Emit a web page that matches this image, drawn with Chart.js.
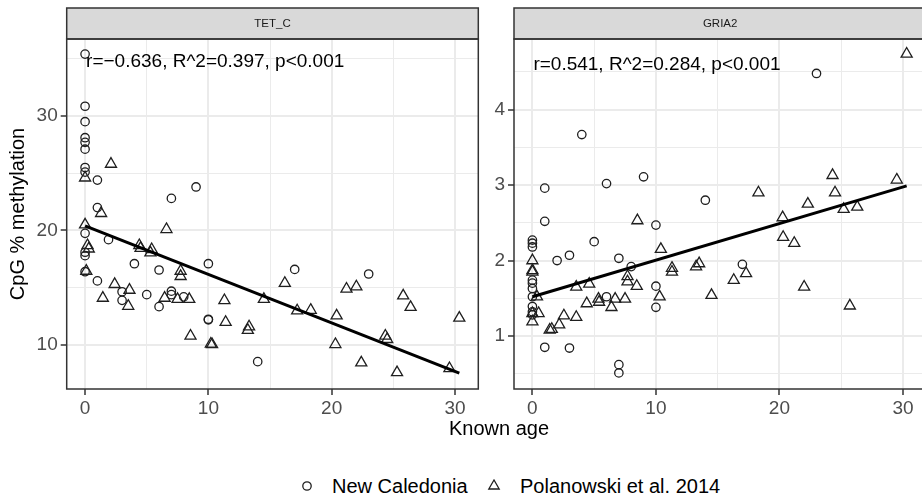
<!DOCTYPE html>
<html>
<head>
<meta charset="utf-8">
<script src="https://cdn.jsdelivr.net/npm/chart.js@4.4.0/dist/chart.umd.min.js"></script>
<style>
html, body { margin: 0; padding: 0; width: 922px; height: 499px; overflow: hidden; background: #fff; }
body { position: relative; font-family: "Liberation Sans", Arial, sans-serif; }
.box { position: absolute; top: 0; height: 430px; }
#leftBox { left: 0; width: 486px; }
#rightBox { left: 488px; width: 446px; }
#xTitle { position: absolute; left: 399px; width: 200px; top: 416px; line-height: 24px; text-align: center; font-size: 20px; color: #000; }
.lg { position: absolute; top: 474px; line-height: 24px; font-size: 20px; color: #000; white-space: nowrap; }
.mk { position: absolute; top: 479px; }
</style>
</head>
<body>
<div class="box" id="leftBox"><canvas id="leftChart"></canvas></div>
<div class="box" id="rightBox"><canvas id="rightChart"></canvas></div>
<div id="xTitle"></div>
<svg class="mk" style="left:300px" width="14" height="14"><circle cx="7" cy="7" r="4.2" fill="none" stroke="#1f1f1f" stroke-width="1.3"/></svg>
<div class="lg" id="lg0" style="left:332px"></div>
<svg class="mk" style="left:487px" width="14" height="14"><polygon points="7,1 1.8,10 12.2,10" fill="none" stroke="#1f1f1f" stroke-width="1.3"/></svg>
<div class="lg" id="lg1" style="left:520px"></div>
<script>
const panelNames = ["TET_C", "GRIA2"];
const seriesNames = ["New Caledonia", "Polanowski et al. 2014"];
const xTitle = "Known age";
const yTitle = "CpG % methylation";
const annotText = ["r=\u22120.636, R^2=0.397, p<0.001", "r=0.541, R^2=0.284, p<0.001"];

const xTicks = [0, 5, 10, 15, 20, 25, 30];
const xTickLabels = ["0", "", "10", "", "20", "", "30"];
const tetTicks = [10, 15, 20, 25, 30, 35];
const tetTickLabels = ["10", "", "20", "", "30", ""];
const griaTicks = [0.5, 1, 1.5, 2, 2.5, 3, 3.5, 4, 4.5];
const griaTickLabels = ["", "1", "", "2", "", "3", "", "4", ""];

// TET_C, New Caledonia
const tetNcX = [0, 0, 0, 0, 0, 0, 0, 0, 1, 9, 7, 1, 0, 1.9, 0, 0, 4, 10, 6, 17, 23, 0, 1, 3, 3, 5, 6, 7, 7, 8, 10, 10, 14];
const tetNcY = [35.4, 30.85, 29.5, 28.1, 27.7, 27.1, 25.5, 25.1, 24.4, 23.8, 22.8, 22.0, 19.75, 19.2, 18.1, 17.8, 17.1, 17.1, 16.55, 16.6, 16.2, 16.4, 15.6, 14.65, 13.9, 14.4, 13.35, 14.7, 14.4, 14.2, 12.2, 12.25, 8.55];
// TET_C, Polanowski et al. 2014
const tetPolX = [0, 2.1, 1.3, 0, 6.6, 0.2, 0.3, 4.4, 4.5, 5.4, 5.3, 7.75, 7.75, 0.1, 2.4, 3.6, 1.44, 3.5, 6.45, 7.5, 8.45, 11.3, 14.5, 16.2, 11.4, 13.3, 13.2, 8.55, 10.2, 10.3, 17.2, 18.3, 20.4, 21.2, 22.0, 25.8, 26.4, 24.35, 24.5, 20.3, 22.4, 25.3, 29.55, 30.35];
const tetPolY = [24.6, 25.8, 21.5, 20.5, 20.1, 18.7, 18.4, 18.7, 18.45, 18.35, 18.06, 16.46, 16.0, 16.46, 15.3, 14.8, 14.1, 13.4, 14.1, 14.0, 14.0, 13.9, 14.0, 15.4, 12.0, 11.6, 11.3, 10.8, 10.1, 10.05, 13.0, 13.05, 12.56, 14.9, 15.1, 14.3, 13.3, 10.8, 10.5, 10.06, 8.45, 7.6, 7.96, 12.36];
const tetFitX = [0, 30.35];
const tetFitY = [20.4, 7.55];

// GRIA2, New Caledonia
const griaNcX = [4, 1, 6, 9, 14, 23, 1, 10, 0, 0, 0, 5, 2, 3, 7, 8, 17, 0, 0, 0, 10, 6, 10, 0, 0, 0, 1, 3, 7, 7, 0];
const griaNcY = [3.67, 2.96, 3.02, 3.11, 2.80, 4.48, 2.52, 2.47, 2.27, 2.23, 2.18, 2.25, 2.0, 2.07, 2.03, 1.92, 1.95, 1.74, 1.70, 1.63, 1.66, 1.52, 1.38, 1.39, 1.32, 1.28, 0.85, 0.84, 0.62, 0.51, 1.52];
// GRIA2, Polanowski et al. 2014
const griaPolX = [30.3, 18.3, 24.3, 24.5, 29.5, 22.3, 25.2, 26.3, 20.26, 20.3, 21.2, 13.5, 13.25, 17.3, 16.3, 22.0, 14.5, 25.7, 8.5, 0, 10.4, 0, 0, 7.7, 7.7, 8.45, 11.3, 11.3, 3.55, 4.6, 0.37, 5.35, 5.4, 6.7, 7.5, 4.4, 6.4, 10.3, 0, 0.5, 0, 2.55, 2.17, 3.55, 1.4, 1.57];
const griaPolY = [4.74, 2.90, 3.13, 2.90, 3.07, 2.75, 2.68, 2.71, 2.57, 2.31, 2.23, 1.96, 1.92, 1.83, 1.74, 1.65, 1.54, 1.40, 2.53, 2.0, 2.15, 1.87, 1.85, 1.79, 1.72, 1.66, 1.90, 1.85, 1.65, 1.69, 1.52, 1.49, 1.45, 1.49, 1.49, 1.43, 1.38, 1.52, 1.30, 1.30, 1.19, 1.27, 1.15, 1.25, 1.08, 1.09];
const griaFitX = [0, 30.3];
const griaFitY = [1.52, 2.99];

const FONT = "'Liberation Sans', Arial, sans-serif";
const pointColor = "#1f1f1f";

document.getElementById("xTitle").textContent = xTitle;
document.getElementById("lg0").textContent = seriesNames[0];
document.getElementById("lg1").textContent = seriesNames[1];

function toPoints(xs, ys) {
    return xs.map((x, i) => ({ x: x, y: ys[i] }));
}

function decorPlugin(name, note, noteY) {
    return {
        id: "decor",
        afterDatasetsDraw(chart) {
            const ctx = chart.ctx;
            ctx.save();
            ctx.fillStyle = "#000";
            ctx.font = "19px " + FONT;
            ctx.textAlign = "left";
            ctx.textBaseline = "middle";
            ctx.fillText(note, chart.scales.x.getPixelForValue(0) + 1, chart.scales.y.getPixelForValue(noteY));
            ctx.restore();
        },
        afterDraw(chart) {
            const a = chart.chartArea;
            const ctx = chart.ctx;
            ctx.save();
            // strip
            ctx.fillStyle = "#D9D9D9";
            ctx.fillRect(a.left, a.top - 31, a.right - a.left, 31);
            ctx.strokeStyle = "#333333";
            ctx.lineWidth = 1.5;
            ctx.strokeRect(a.left, a.top - 31, a.right - a.left, 31);
            ctx.fillStyle = "#1A1A1A";
            ctx.font = "11.5px " + FONT;
            ctx.textAlign = "center";
            ctx.textBaseline = "middle";
            ctx.fillText(name, (a.left + a.right) / 2, a.top - 15.5);
            // panel border
            ctx.strokeRect(a.left, a.top, a.right - a.left, a.bottom - a.top);
            ctx.restore();
        }
    };
}

function makePanel(id, p) {
    const tickFont = { family: FONT, size: 19 };
    return new Chart(document.getElementById(id), {
        type: "scatter",
        data: {
            datasets: [{
                type: "line",
                label: "fit",
                data: p.fit,
                borderColor: "#000",
                borderWidth: 3,
                pointRadius: 0,
                fill: false
            }, {
                label: seriesNames[0],
                data: p.nc,
                pointStyle: "circle",
                pointRadius: 4.2,
                borderWidth: 1.3,
                borderColor: pointColor,
                backgroundColor: "rgba(0,0,0,0)"
            }, {
                label: seriesNames[1],
                data: p.pol,
                pointStyle: "triangle",
                pointRadius: 6.4,
                borderWidth: 1.3,
                borderColor: pointColor,
                backgroundColor: "rgba(0,0,0,0)"
            }]
        },
        options: {
            responsive: true,
            maintainAspectRatio: false,
            animation: false,
            events: [],
            layout: { padding: { top: 39, right: p.padRight, left: 0, bottom: 0 } },
            plugins: { legend: { display: false }, tooltip: { enabled: false } },
            scales: {
                x: {
                    type: "linear",
                    min: -1.49,
                    max: 31.89,
                    afterBuildTicks: s => { s.ticks = xTicks.map(v => ({ value: v })); },
                    afterFit: s => { s.height = 41; },
                    border: { display: false },
                    grid: {
                        color: "#EBEBEB",
                        lineWidth: c => xTickLabels[c.index] ? 2 : 1,
                        tickLength: 6,
                        tickWidth: 1.5,
                        tickColor: c => xTickLabels[c.index] ? "#333333" : "rgba(0,0,0,0)"
                    },
                    ticks: {
                        autoSkip: false,
                        maxRotation: 0,
                        padding: 2,
                        color: "#4D4D4D",
                        font: tickFont,
                        callback: (v, i) => xTickLabels[i]
                    }
                },
                y: {
                    type: "linear",
                    min: p.yMin,
                    max: p.yMax,
                    afterBuildTicks: s => { s.ticks = p.yTicks.map(v => ({ value: v })); },
                    afterFit: s => { s.width = p.axisWidth; },
                    border: { display: false },
                    title: {
                        display: p.showTitle,
                        text: yTitle,
                        color: "#000",
                        font: { family: FONT, size: 20 },
                        padding: { top: 6, bottom: 0 }
                    },
                    grid: {
                        color: "#EBEBEB",
                        lineWidth: c => p.yLabels[c.index] ? 2 : 1,
                        tickLength: 6,
                        tickWidth: 1.5,
                        tickColor: c => p.yLabels[c.index] ? "#333333" : "rgba(0,0,0,0)"
                    },
                    ticks: {
                        autoSkip: false,
                        padding: 3,
                        color: "#4D4D4D",
                        font: tickFont,
                        callback: (v, i) => p.yLabels[i]
                    }
                }
            }
        },
        plugins: [decorPlugin(p.name, p.note, p.noteY)]
    });
}

makePanel("leftChart", {
    name: panelNames[0],
    note: annotText[0],
    noteY: 34.7,
    fit: toPoints(tetFitX, tetFitY),
    nc: toPoints(tetNcX, tetNcY),
    pol: toPoints(tetPolX, tetPolY),
    yMin: 6.16,
    yMax: 36.72,
    yTicks: tetTicks,
    yLabels: tetTickLabels,
    axisWidth: 66.7,
    padRight: 1.7,
    showTitle: true
});

makePanel("rightChart", {
    name: panelNames[1],
    note: annotText[1],
    noteY: 4.6,
    fit: toPoints(griaFitX, griaFitY),
    nc: toPoints(griaNcX, griaNcY),
    pol: toPoints(griaPolX, griaPolY),
    yMin: 0.297,
    yMax: 4.937,
    yTicks: griaTicks,
    yLabels: griaTickLabels,
    axisWidth: 26,
    padRight: 2.4,
    showTitle: false
});
</script>
</body>
</html>
